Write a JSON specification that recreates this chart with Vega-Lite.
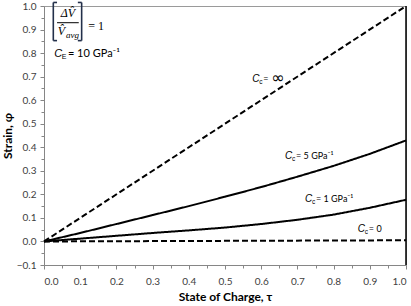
{
  "$schema": "https://vega.github.io/schema/vega-lite/v6.json",
  "width": 362,
  "height": 259,
  "autosize": "none",
  "padding": {"left": 44, "top": 6, "right": 5, "bottom": 41},
  "config": {
    "view": {"stroke": "#9a9a9a", "strokeWidth": 1},
    "font": "Lato"
  },
  "datasets": {
    "curves": [
      {"Cc": "inf", "tau": 0.0, "phi": 0.0},
      {"Cc": "inf", "tau": 1.0, "phi": 1.0},
      {"Cc": "5", "tau": 0.0, "phi": 0.0},
      {"Cc": "5", "tau": 0.1, "phi": 0.036},
      {"Cc": "5", "tau": 0.2, "phi": 0.074},
      {"Cc": "5", "tau": 0.3, "phi": 0.112},
      {"Cc": "5", "tau": 0.4, "phi": 0.150},
      {"Cc": "5", "tau": 0.5, "phi": 0.190},
      {"Cc": "5", "tau": 0.6, "phi": 0.231},
      {"Cc": "5", "tau": 0.7, "phi": 0.275},
      {"Cc": "5", "tau": 0.8, "phi": 0.321},
      {"Cc": "5", "tau": 0.9, "phi": 0.372},
      {"Cc": "5", "tau": 1.0, "phi": 0.429},
      {"Cc": "1", "tau": 0.0, "phi": 0.0},
      {"Cc": "1", "tau": 0.1, "phi": 0.012},
      {"Cc": "1", "tau": 0.2, "phi": 0.024},
      {"Cc": "1", "tau": 0.3, "phi": 0.036},
      {"Cc": "1", "tau": 0.4, "phi": 0.047},
      {"Cc": "1", "tau": 0.5, "phi": 0.059},
      {"Cc": "1", "tau": 0.6, "phi": 0.074},
      {"Cc": "1", "tau": 0.7, "phi": 0.092},
      {"Cc": "1", "tau": 0.8, "phi": 0.114},
      {"Cc": "1", "tau": 0.9, "phi": 0.143},
      {"Cc": "1", "tau": 1.0, "phi": 0.177},
      {"Cc": "0", "tau": 0.0, "phi": 0.0},
      {"Cc": "0", "tau": 1.0, "phi": 0.005}
    ],
    "labels": [
      {"Cc": "inf", "tau": 0.575, "phi": 0.69, "rest": "="},
      {"Cc": "5", "tau": 0.666, "phi": 0.364, "rest": "= 5 GPa⁻¹"},
      {"Cc": "1", "tau": 0.721, "phi": 0.181, "rest": "= 1 GPa⁻¹"},
      {"Cc": "0", "tau": 0.867, "phi": 0.053, "rest": "= 0"}
    ],
    "minor": [
      {"tau": 0.0, "phi": 0.0}
    ],
    "one": [{}]
  },
  "resolve": {"axis": {"x": "independent", "y": "independent"}},
  "layer": [
    {
      "data": {"name": "curves"},
      "mark": {"type": "line", "color": "black", "strokeWidth": 2, "strokeCap": "butt"},
      "encoding": {
        "x": {
          "field": "tau", "type": "quantitative",
          "scale": {"domain": [0, 1], "nice": false},
          "axis": {
            "orient": "bottom", "values": [0, 0.1, 0.2, 0.3, 0.4, 0.5, 0.6, 0.7, 0.8, 0.9, 1.0],
            "format": ".1f", "grid": false, "tickSize": 4, "labelPadding": 7,
            "domainColor": "#868686", "tickColor": "#868686",
            "labelColor": "#404040", "labelFontSize": 10, "labelFont": "Lato",
            "title": "State of Charge, τ", "titleFontSize": 12, "titleFontWeight": "bold",
            "titleColor": "#000000", "titlePadding": 5, "titleFont": "Lato"
          }
        },
        "y": {
          "field": "phi", "type": "quantitative",
          "scale": {"domain": [-0.1, 1.0], "nice": false, "zero": false},
          "axis": {
            "orient": "left", "values": [-0.1, 0, 0.1, 0.2, 0.3, 0.4, 0.5, 0.6, 0.7, 0.8, 0.9, 1.0],
            "format": ".1f", "grid": false, "tickSize": 4, "labelPadding": 4,
            "domainColor": "#868686", "tickColor": "#868686",
            "labelColor": "#404040", "labelFontSize": 10, "labelFont": "Lato",
            "title": "Strain, φ", "titleFontSize": 12, "titleFontWeight": "bold",
            "titleColor": "#000000", "titlePadding": 2, "titleFont": "Lato"
          }
        },
        "detail": {"field": "Cc"},
        "strokeDash": {
          "field": "Cc", "type": "nominal",
          "scale": {"domain": ["inf", "5", "1", "0"], "range": [[6, 3], [1, 0], [1, 0], [6, 3]]},
          "legend": null
        }
      }
    },
    {
      "data": {"name": "minor"},
      "mark": {"type": "point", "opacity": 0},
      "encoding": {
        "x": {
          "field": "tau", "type": "quantitative",
          "axis": {
            "orient": "bottom", "values": [0.05, 0.15, 0.25, 0.35, 0.45, 0.55, 0.65, 0.75, 0.85, 0.95],
            "labels": false, "domain": false, "grid": false, "tickSize": 3,
            "tickColor": "#868686", "title": null
          }
        },
        "y": {
          "field": "phi", "type": "quantitative",
          "axis": {
            "orient": "left", "values": [-0.05, 0.05, 0.15, 0.25, 0.35, 0.45, 0.55, 0.65, 0.75, 0.85, 0.95],
            "labels": false, "domain": false, "grid": false, "tickSize": 3,
            "tickColor": "#868686", "title": null
          }
        }
      }
    },
    {
      "data": {"name": "one"},
      "mark": {"type": "rule", "color": "black", "strokeWidth": 1.5},
      "encoding": {
        "x": {"datum": 1, "type": "quantitative", "axis": null},
        "y": {"datum": -0.1, "type": "quantitative", "axis": null},
        "y2": {"datum": 1.0}
      }
    },
    {
      "data": {"name": "labels"},
      "mark": {"type": "text", "align": "left", "baseline": "middle", "fontSize": 10, "fontStyle": "italic", "font": "Liberation Sans", "color": "#000000"},
      "encoding": {
        "x": {"field": "tau", "type": "quantitative", "axis": null},
        "y": {"field": "phi", "type": "quantitative", "axis": null},
        "text": {"value": "C"}
      }
    },
    {
      "data": {"name": "labels"},
      "mark": {"type": "text", "align": "left", "baseline": "middle", "fontSize": 6.5, "dx": 7, "dy": 3, "font": "Liberation Sans", "color": "#000000"},
      "encoding": {
        "x": {"field": "tau", "type": "quantitative", "axis": null},
        "y": {"field": "phi", "type": "quantitative", "axis": null},
        "text": {"value": "c"}
      }
    },
    {
      "data": {"name": "labels"},
      "mark": {"type": "text", "align": "left", "baseline": "middle", "fontSize": 9, "dx": 11, "font": "Lato", "color": "#000000"},
      "encoding": {
        "x": {"field": "tau", "type": "quantitative", "axis": null},
        "y": {"field": "phi", "type": "quantitative", "axis": null},
        "text": {"field": "rest"}
      }
    },
    {
      "data": {"name": "one"},
      "mark": {"type": "text", "align": "left", "baseline": "middle", "fontSize": 16, "dx": 19, "dy": -1, "font": "DejaVu Sans", "color": "#000000"},
      "encoding": {
        "x": {"datum": 0.575, "type": "quantitative", "axis": null},
        "y": {"datum": 0.69, "type": "quantitative", "axis": null},
        "text": {"value": "∞"}
      }
    },
    {
      "data": {"name": "one"},
      "mark": {"type": "rule", "color": "#23304a", "strokeWidth": 1.6},
      "encoding": {
        "x": {"datum": 0.0257, "type": "quantitative", "axis": null},
        "y": {"datum": 1.015, "type": "quantitative", "axis": null},
        "y2": {"datum": 0.853}
      }
    },
    {
      "data": {"name": "one"},
      "mark": {"type": "rule", "color": "#23304a", "strokeWidth": 1.6},
      "encoding": {
        "x": {"datum": 0.0257, "type": "quantitative", "axis": null},
        "x2": {"datum": 0.036},
        "y": {"datum": 1.015, "type": "quantitative", "axis": null}
      }
    },
    {
      "data": {"name": "one"},
      "mark": {"type": "rule", "color": "#23304a", "strokeWidth": 1.6},
      "encoding": {
        "x": {"datum": 0.0257, "type": "quantitative", "axis": null},
        "x2": {"datum": 0.036},
        "y": {"datum": 0.853, "type": "quantitative", "axis": null}
      }
    },
    {
      "data": {"name": "one"},
      "mark": {"type": "rule", "color": "#23304a", "strokeWidth": 1.6},
      "encoding": {
        "x": {"datum": 0.104, "type": "quantitative", "axis": null},
        "y": {"datum": 1.015, "type": "quantitative", "axis": null},
        "y2": {"datum": 0.853}
      }
    },
    {
      "data": {"name": "one"},
      "mark": {"type": "rule", "color": "#23304a", "strokeWidth": 1.6},
      "encoding": {
        "x": {"datum": 0.0935, "type": "quantitative", "axis": null},
        "x2": {"datum": 0.104},
        "y": {"datum": 1.015, "type": "quantitative", "axis": null}
      }
    },
    {
      "data": {"name": "one"},
      "mark": {"type": "rule", "color": "#23304a", "strokeWidth": 1.6},
      "encoding": {
        "x": {"datum": 0.0935, "type": "quantitative", "axis": null},
        "x2": {"datum": 0.104},
        "y": {"datum": 0.853, "type": "quantitative", "axis": null}
      }
    },
    {
      "data": {"name": "one"},
      "mark": {"type": "text", "align": "center", "baseline": "middle", "fontSize": 12, "font": "Liberation Serif", "fontStyle": "italic", "color": "#000000"},
      "encoding": {
        "x": {"datum": 0.066, "type": "quantitative", "axis": null},
        "y": {"datum": 0.972, "type": "quantitative", "axis": null},
        "text": {"value": "ΔV̂"}
      }
    },
    {
      "data": {"name": "one"},
      "mark": {"type": "rule", "color": "#000000", "strokeWidth": 1},
      "encoding": {
        "x": {"datum": 0.036, "type": "quantitative", "axis": null},
        "x2": {"datum": 0.096},
        "y": {"datum": 0.929, "type": "quantitative", "axis": null}
      }
    },
    {
      "data": {"name": "one"},
      "mark": {"type": "text", "align": "left", "baseline": "middle", "fontSize": 12, "font": "Liberation Serif", "fontStyle": "italic", "color": "#000000"},
      "encoding": {
        "x": {"datum": 0.038, "type": "quantitative", "axis": null},
        "y": {"datum": 0.893, "type": "quantitative", "axis": null},
        "text": {"value": "V̂"}
      }
    },
    {
      "data": {"name": "one"},
      "mark": {"type": "text", "align": "left", "baseline": "middle", "fontSize": 9, "font": "Liberation Serif", "fontStyle": "italic", "color": "#000000"},
      "encoding": {
        "x": {"datum": 0.061, "type": "quantitative", "axis": null},
        "y": {"datum": 0.876, "type": "quantitative", "axis": null},
        "text": {"value": "avg"}
      }
    },
    {
      "data": {"name": "one"},
      "mark": {"type": "text", "align": "left", "baseline": "middle", "fontSize": 12, "font": "Liberation Serif", "color": "#000000"},
      "encoding": {
        "x": {"datum": 0.122, "type": "quantitative", "axis": null},
        "y": {"datum": 0.917, "type": "quantitative", "axis": null},
        "text": {"value": "=  1"}
      }
    },
    {
      "data": {"name": "one"},
      "mark": {"type": "text", "align": "left", "baseline": "middle", "fontSize": 11, "font": "Liberation Sans", "fontStyle": "italic", "color": "#000000"},
      "encoding": {
        "x": {"datum": 0.028, "type": "quantitative", "axis": null},
        "y": {"datum": 0.798, "type": "quantitative", "axis": null},
        "text": {"value": "C"}
      }
    },
    {
      "data": {"name": "one"},
      "mark": {"type": "text", "align": "left", "baseline": "middle", "fontSize": 7, "dy": 3, "font": "Liberation Sans", "color": "#000000"},
      "encoding": {
        "x": {"datum": 0.049, "type": "quantitative", "axis": null},
        "y": {"datum": 0.798, "type": "quantitative", "axis": null},
        "text": {"value": "E"}
      }
    },
    {
      "data": {"name": "one"},
      "mark": {"type": "text", "align": "left", "baseline": "middle", "fontSize": 11, "font": "Lato", "color": "#000000"},
      "encoding": {
        "x": {"datum": 0.066, "type": "quantitative", "axis": null},
        "y": {"datum": 0.798, "type": "quantitative", "axis": null},
        "text": {"value": "= 10 GPa⁻¹"}
      }
    }
  ]
}
